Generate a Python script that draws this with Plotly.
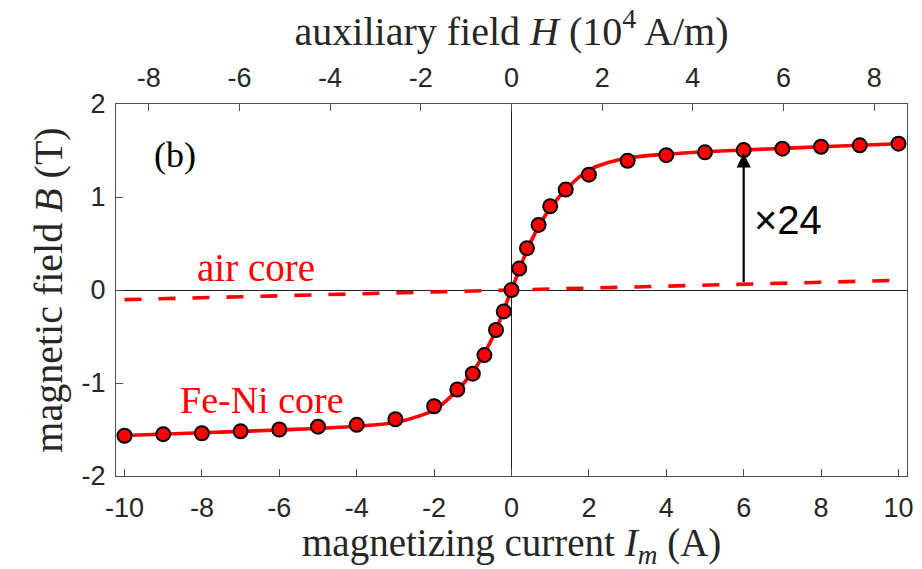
import plotly.graph_objects as go

# Measured points (Fe-Ni core): magnetizing current I (A) vs magnetic field B (T)
I_meas = [-10, -9, -8, -7, -6, -5, -4, -3, -2, -1.4, -1.0, -0.7, -0.4, -0.2, 0.0,
          0.2, 0.4, 0.7, 1.0, 1.4, 2, 3, 4, 5, 6, 7, 8, 9, 10]
B_meas = [-1.567, -1.55, -1.54, -1.52, -1.50, -1.47, -1.45, -1.39, -1.25, -1.07, -0.90, -0.70, -0.43, -0.23, 0.0,
          0.23, 0.45, 0.70, 0.90, 1.08, 1.24, 1.39, 1.45, 1.48, 1.505, 1.52, 1.54, 1.556, 1.573]

# Fitted curve
I_fit = [-10, -8, -6, -4, -3, -2.5, -2, -1.5, -1, -0.5, 0, 0.5, 1, 1.5, 2, 2.5, 3, 4, 6, 8, 10]
B_fit = [-1.565, -1.535, -1.505, -1.465, -1.425, -1.37, -1.29, -1.12, -0.88, -0.52, 0.0,
         0.52, 0.88, 1.12, 1.29, 1.37, 1.42, 1.46, 1.505, 1.54, 1.573]

# Air core (dashed line)
I_air = [-10, 10]
B_air = [-0.104, 0.104]

# Axis ticks
I_ticks = [-10, -8, -6, -4, -2, 0, 2, 4, 6, 8, 10]
B_ticks = [-2, -1, 0, 1, 2]
H_ticks = [-8, -6, -4, -2, 0, 2, 4, 6, 8]
H_per_I = 0.8534  # 10^4 A/m per A

arrow_I = 6
arrow_B = [0.07, 1.47]

RED = "#ff0000"
AX = "#4d4d4d"
I_lim = 10.22

fig = go.Figure()
fig.add_trace(go.Scatter(x=I_air, y=B_air, mode="lines",
                         line=dict(color=RED, width=3.6, dash="17px,17px"),
                         showlegend=False, hoverinfo="skip"))
fig.add_trace(go.Scatter(x=I_fit, y=B_fit, mode="lines",
                         line=dict(color=RED, width=3.6, shape="spline", smoothing=1.0),
                         showlegend=False, hoverinfo="skip"))
fig.add_trace(go.Scatter(x=I_meas, y=B_meas, mode="markers",
                         marker=dict(color=RED, size=14, line=dict(color="black", width=2)),
                         showlegend=False))
# invisible trace to anchor the top axis
fig.add_trace(go.Scatter(x=[H_ticks[0], H_ticks[-1]], y=[0, 0], xaxis="x2", mode="markers",
                         marker=dict(opacity=0), showlegend=False, hoverinfo="skip"))

tickfont = dict(family="Liberation Sans", size=27, color="#262626")
serif = "Liberation Serif"

fig.update_layout(
    width=922, height=569,
    margin=dict(l=116, r=9, t=104, b=93),
    paper_bgcolor="white", plot_bgcolor="white",
    xaxis=dict(range=[-I_lim, I_lim], tickvals=I_ticks, ticktext=[str(v) for v in I_ticks],
               ticks="inside", ticklen=7, tickwidth=1, tickcolor=AX, ticklabelstandoff=8,
               showline=True, linecolor=AX, linewidth=1, mirror=True,
               showgrid=False, zeroline=True, zerolinecolor="#222", zerolinewidth=1,
               tickfont=tickfont),
    xaxis2=dict(range=[-I_lim * H_per_I, I_lim * H_per_I], overlaying="x", side="top",
                tickvals=H_ticks, ticktext=[str(v) for v in H_ticks],
                ticks="inside", ticklen=7, tickwidth=1, tickcolor=AX, ticklabelstandoff=11,
                showline=False, showgrid=False, zeroline=False,
                tickfont=tickfont,
                title=dict(text="auxiliary field <i>H</i> (10<sup>4</sup> A/m)",
                           font=dict(family=serif, size=40, color="#262626"), standoff=4)),
    yaxis=dict(range=[-2, 2], tickvals=B_ticks, ticktext=[str(v) for v in B_ticks],
               ticks="inside", ticklen=7, tickwidth=1, tickcolor=AX, ticklabelstandoff=4,
               showline=True, linecolor=AX, linewidth=1, mirror=True,
               showgrid=False, zeroline=True, zerolinecolor="#222", zerolinewidth=1,
               tickfont=tickfont,
               title=dict(text="magnetic field <i>B</i> (T)",
                          font=dict(family=serif, size=40, color="#262626"), standoff=6)),
)

# bottom axis title placed explicitly below the tick labels
fig.add_annotation(x=0.5, y=-0.188, xref="paper", yref="paper", xanchor="center", yanchor="middle",
                   text="magnetizing current <i>I</i><sub><i>m</i></sub> (A)", showarrow=False,
                   font=dict(family=serif, size=39, color="#262626"))

fig.add_annotation(x=arrow_I, y=arrow_B[1], ax=arrow_I, ay=arrow_B[0],
                   xref="x", yref="y", axref="x", ayref="y",
                   showarrow=True, arrowhead=2, arrowsize=1.3, arrowwidth=2.2,
                   arrowcolor="black", text="")
fig.add_annotation(x=7.15, y=0.75, xref="x", yref="y", text="×24", showarrow=False,
                   font=dict(family="Liberation Sans", size=40, color="black"))
fig.add_annotation(x=-8.7, y=1.45, xref="x", yref="y", text="(b)", showarrow=False,
                   font=dict(family=serif, size=36, color="black"))
fig.add_annotation(x=-6.6, y=0.24, xref="x", yref="y", text="air core", showarrow=False,
                   font=dict(family=serif, size=39, color=RED))
fig.add_annotation(x=-6.45, y=-1.18, xref="x", yref="y", text="Fe-Ni core", showarrow=False,
                   font=dict(family=serif, size=38, color=RED))

fig.write_html("out.html")
